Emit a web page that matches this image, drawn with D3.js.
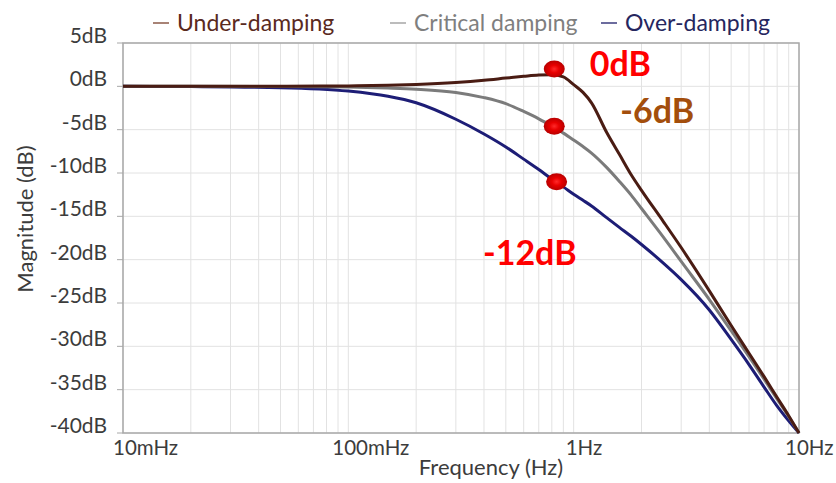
<!DOCTYPE html>
<html>
<head>
<meta charset="utf-8">
<script src="https://cdn.jsdelivr.net/npm/d3@7"></script>
<style>
  body { margin: 0; background: #fff; }
  svg { display: block; font-family: Lato, "Open Sans", sans-serif; }
</style>
</head>
<body>
<svg id="chart"></svg>
<script>
const freqs = [0.01, 0.02, 0.05, 0.1, 0.15, 0.2, 0.3, 0.4, 0.5, 0.6, 0.7, 0.8, 0.9, 1.0,
  1.1, 1.2, 1.4, 1.6, 1.8, 2, 2.5, 3, 4, 5, 6, 7, 8, 9, 10];

// magnitude (dB)
const underDamping = [0, 0, 0.01, 0.05, 0.12, 0.22, 0.45, 0.7, 0.95, 1.15, 1.3, 1.35, 1.1, 0.2,
  -0.7, -1.9, -5.3, -7.9, -10.2, -12.0, -15.6, -18.6, -23.6, -27.6, -30.8, -33.5, -35.9, -38.0, -40];
const criticalDamping = [0, 0, -0.02, -0.08, -0.2, -0.33, -0.7, -1.3, -2.0, -2.9, -3.75, -4.6, -5.4, -6.2,
  -6.95, -7.7, -9.35, -11.0, -12.55, -14.1, -17.4, -20.2, -24.6, -28.2, -31.2, -33.8, -36.1, -38.1, -40];
const overDamping = [0, -0.03, -0.15, -0.55, -1.15, -1.9, -3.8, -5.5, -7.0, -8.4, -9.6, -10.7, -11.6, -12.45,
  -13.15, -13.8, -15.15, -16.3, -17.3, -18.25, -20.4, -22.3, -25.8, -29.2, -32.1, -34.7, -36.9, -38.6, -40];

const seriesNames = ["Under-damping", "Critical damping", "Over-damping"];

const yTicks = [5, 0, -5, -10, -15, -20, -25, -30, -35, -40];
const xTicks = [0.01, 0.1, 1, 10];
const xTickLabels = ["10mHz", "100mHz", "1Hz", "10Hz"];

// red markers
const markerFreq = [0.82, 0.82, 0.84];
const markerDb = [2.0, -4.6, -11.0];

// annotations
const noteTexts = ["0dB", "-6dB", "-12dB"];
const noteFreq = [1.18, 1.61, 0.396];
const noteDb = [1.2, -4.2, -20.6];

const width = 836, height = 483;
const margin = { top: 43, right: 37, bottom: 50, left: 123 };

const svg = d3.select("#chart").attr("width", width).attr("height", height);

const x = d3.scaleLog()
  .domain([0.01, 10])
  .range([margin.left, width - margin.right]);
const y = d3.scaleLinear()
  .domain([-40, 5])
  .range([height - margin.bottom, margin.top]);

// grid
const grid = svg.append("g");
grid.selectAll("line.v")
  .data(x.ticks())
  .join("line")
  .attr("class", "v")
  .attr("x1", d => x(d)).attr("x2", d => x(d))
  .attr("y1", y(5)).attr("y2", y(-40))
  .attr("stroke", "#e2e2e2")
  .attr("stroke-width", 1);
grid.selectAll("line.h")
  .data(yTicks)
  .join("line")
  .attr("class", "h")
  .attr("x1", x(0.01)).attr("x2", x(10))
  .attr("y1", d => y(d)).attr("y2", d => y(d))
  .attr("stroke", "#e2e2e2")
  .attr("stroke-width", 1);

// frame
svg.append("rect")
  .attr("x", x(0.01)).attr("y", y(5))
  .attr("width", x(10) - x(0.01))
  .attr("height", y(-40) - y(5))
  .attr("fill", "none")
  .attr("stroke", "#a8a8a8")
  .attr("stroke-width", 1.5);

// y axis labels
const yAxis = svg.append("g");
yAxis.selectAll("line")
  .data(yTicks)
  .join("line")
  .attr("x1", x(0.01) - 6).attr("x2", x(0.01))
  .attr("y1", d => y(d)).attr("y2", d => y(d))
  .attr("stroke", "#a8a8a8");
yAxis.selectAll("text")
  .data(yTicks)
  .join("text")
  .attr("x", x(0.01) - 16)
  .attr("y", d => y(d))
  .attr("text-anchor", "end")
  .attr("font-size", 21)
  .attr("fill", "#3c3c3c")
  .text(d => d + "dB");

// x axis labels (the last one sits right on the page edge, as in the original)
const xLabelShift = [-10, -16, -8, -14];
svg.append("g")
  .selectAll("text")
  .data(xTicks)
  .join("text")
  .attr("x", (d, i) => x(d) + xLabelShift[i])
  .attr("y", y(-40) + 22)
  .attr("font-size", 20.5)
  .attr("fill", "#3c3c3c")
  .text((d, i) => xTickLabels[i]);

// axis titles
svg.append("text")
  .attr("x", 491)
  .attr("y", 475)
  .attr("text-anchor", "middle")
  .attr("font-size", 22)
  .attr("fill", "#3c3c3c")
  .text("Frequency (Hz)");
svg.append("text")
  .attr("transform", `translate(33,${(y(5) + y(-40)) / 2 - 19}) rotate(-90)`)
  .attr("text-anchor", "middle")
  .attr("font-size", 22)
  .attr("fill", "#3c3c3c")
  .text("Magnitude (dB)");

// curves
const line = d3.line()
  .x((d, i) => x(freqs[i]))
  .y(d => y(d))
  .curve(d3.curveMonotoneX);

const curveColors = ["#4a1c13", "#7b7b7b", "#1d1d76"];
[overDamping, criticalDamping, underDamping].forEach((s, k) => {
  svg.append("path")
    .datum(s)
    .attr("fill", "none")
    .attr("stroke", curveColors[2 - k])
    .attr("stroke-width", 3)
    .attr("stroke-linejoin", "round")
    .attr("d", line);
});

// legend
const legendX = [153, 390, 601];
const legendLine = ["#8b5a48", "#a6a6a6", "#3b3b7e"];
const legendText = ["#5a2a1e", "#7f7f7f", "#26265e"];
const legend = svg.append("g")
  .selectAll("g")
  .data(seriesNames)
  .join("g")
  .attr("transform", (d, i) => `translate(${legendX[i]},0)`);
legend.append("line")
  .attr("x1", 0).attr("x2", 16)
  .attr("y1", 23).attr("y2", 23)
  .attr("stroke", (d, i) => legendLine[i])
  .attr("stroke-width", 1.5);
legend.append("text")
  .attr("x", 24)
  .attr("y", 31)
  .attr("font-size", 23)
  .attr("fill", (d, i) => legendText[i])
  .text(d => d);

// markers
const defs = svg.append("defs");
const grad = defs.append("radialGradient").attr("id", "dot");
grad.append("stop").attr("offset", "0%").attr("stop-color", "#ff2a2a");
grad.append("stop").attr("offset", "45%").attr("stop-color", "#e80000");
grad.append("stop").attr("offset", "100%").attr("stop-color", "#b80000");

svg.append("g")
  .selectAll("ellipse")
  .data(markerDb)
  .join("ellipse")
  .attr("cx", (d, i) => x(markerFreq[i]))
  .attr("cy", d => y(d))
  .attr("rx", 10.5)
  .attr("ry", 8.5)
  .attr("fill", "url(#dot)");

// annotations
const noteColors = ["#ff0000", "#a34e0c", "#ff0000"];
svg.append("g")
  .selectAll("text")
  .data(noteTexts)
  .join("text")
  .attr("x", (d, i) => x(noteFreq[i]))
  .attr("y", (d, i) => y(noteDb[i]))
  .attr("font-size", 34)
  .attr("font-weight", "bold")
  .attr("fill", (d, i) => noteColors[i])
  .text(d => d);
</script>
</body>
</html>
